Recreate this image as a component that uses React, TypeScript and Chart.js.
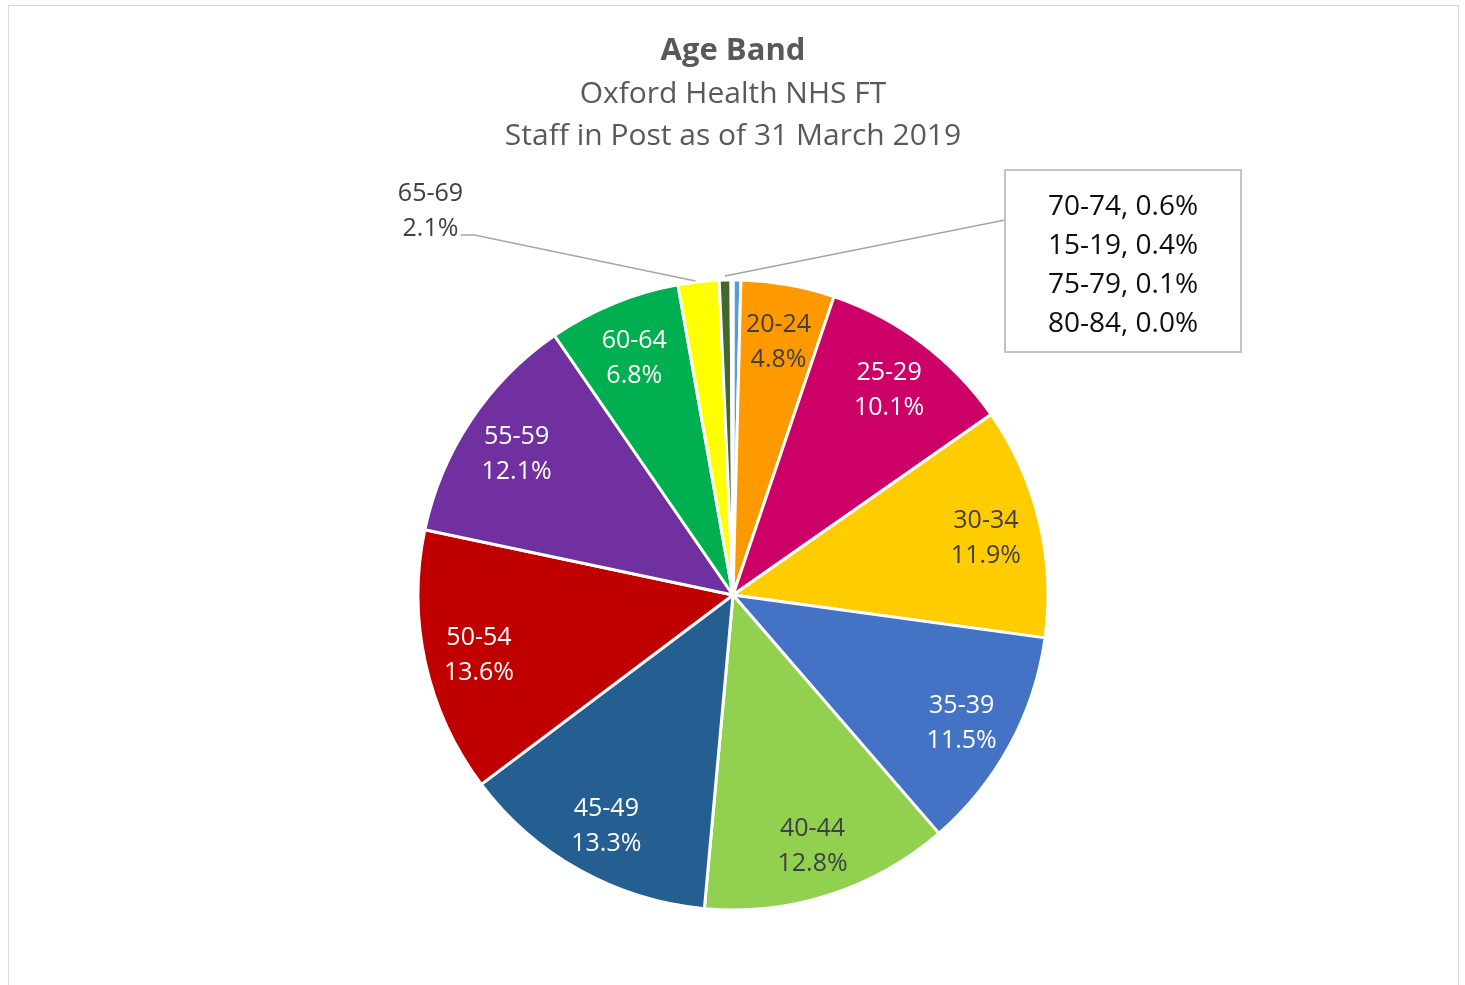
import React, { useEffect, useRef } from "react";
import { Chart, registerables } from "chart.js";

Chart.register(...registerables);

// ---- Data ----
const ageBands = [
  "15-19", "20-24", "25-29", "30-34", "35-39", "40-44", "45-49",
  "50-54", "55-59", "60-64", "65-69", "70-74", "75-79", "80-84",
];
const sharePct = [0.4, 4.8, 10.1, 11.9, 11.5, 12.8, 13.3, 13.6, 12.1, 6.8, 2.1, 0.6, 0.1, 0.0];
const sliceColors = [
  "#5b9bd5", "#ff9900", "#cc0066", "#ffcc00", "#4472c4", "#92d050", "#255e91",
  "#c00000", "#7030a0", "#00b050", "#ffff00", "#43682b", "#9dc3e6", "#bdd7ee",
];
const darkLabelBands = ["20-24", "30-34", "40-44"];
const outsideLabelBands = ["65-69"];
const calloutBands = ["70-74", "15-19", "75-79", "80-84"];
const titleText = "Age Band";
const subtitleLines = ["Oxford Health NHS FT", "Staff in Post as of 31 March 2019"];

const FONT = '"Open Sans", "Noto Sans", sans-serif';
const fmt = (v: number) => v.toFixed(1) + "%";

const sliceLabelPlugin = {
  id: "sliceLabels",
  afterDatasetsDraw(chart: any) {
    const ctx = chart.ctx as CanvasRenderingContext2D;
    const meta = chart.getDatasetMeta(0);
    const labels = chart.data.labels as string[];
    const values = chart.data.datasets[0].data as number[];
    ctx.save();
    ctx.textAlign = "center";
    ctx.textBaseline = "middle";
    ctx.font = `25px ${FONT}`;

    let cx0 = 0, cy0 = 0;
    meta.data.forEach((arc: any, i: number) => {
      const p = arc.getProps(["x", "y", "startAngle", "endAngle", "outerRadius"], true);
      cx0 = p.x; cy0 = p.y;
      const band = labels[i];
      const mid = (p.startAngle + p.endAngle) / 2;
      if (outsideLabelBands.includes(band)) {
        const ax = p.x + Math.cos(mid) * p.outerRadius;
        const ay = p.y + Math.sin(mid) * p.outerRadius;
        ctx.strokeStyle = "#a6a6a6";
        ctx.lineWidth = 1.5;
        ctx.beginPath();
        ctx.moveTo(ax - 3, ay - 1);
        ctx.lineTo(ax - 224, ay - 47);
        ctx.lineTo(ax - 238, ay - 47);
        ctx.stroke();
        ctx.fillStyle = "#404040";
        ctx.fillText(band, ax - 268, ay - 88);
        ctx.fillText(fmt(values[i]), ax - 268, ay - 53);
        return;
      }
      if (calloutBands.includes(band)) return;
      const r = p.outerRadius * 0.826;
      const lx = p.x + Math.cos(mid) * r;
      const ly = p.y + Math.sin(mid) * r + 4;
      ctx.fillStyle = darkLabelBands.includes(band) ? "#404040" : "#ffffff";
      ctx.fillText(band, lx, ly - 17.5);
      ctx.fillText(fmt(values[i]), lx, ly + 17.5);
    });

    // callout box for the tiny slices
    const boxL = cx0 + 272, boxT = cy0 - 425, boxW = 236, boxH = 182;
    const firstIdx = labels.indexOf(calloutBands[0]);
    const fa = meta.data[firstIdx].getProps(["x", "y", "startAngle", "endAngle", "outerRadius"], true);
    const fmid = (fa.startAngle + fa.endAngle) / 2;
    const fx = fa.x + Math.cos(fmid) * (fa.outerRadius + 4);
    const fy = fa.y + Math.sin(fmid) * (fa.outerRadius + 4);
    ctx.strokeStyle = "#a6a6a6";
    ctx.lineWidth = 1.5;
    ctx.beginPath();
    ctx.moveTo(boxL, boxT + 50);
    ctx.lineTo(fx, fy);
    ctx.stroke();
    ctx.fillStyle = "#ffffff";
    ctx.fillRect(boxL, boxT, boxW, boxH);
    ctx.strokeStyle = "#c4c4c4";
    ctx.lineWidth = 2;
    ctx.strokeRect(boxL, boxT, boxW, boxH);
    ctx.font = `28px ${FONT}`;
    ctx.fillStyle = "#0d0d0d";
    calloutBands.forEach((band, k) => {
      const idx = labels.indexOf(band);
      ctx.fillText(`${band}, ${fmt(values[idx])}`, boxL + boxW / 2, boxT + 37 + k * 39);
    });
    ctx.restore();
  },
};

export default function App() {
  const canvasRef = useRef<HTMLCanvasElement | null>(null);

  useEffect(() => {
    if (!canvasRef.current) return;
    const chart = new Chart(canvasRef.current, {
      type: "pie",
      data: {
        labels: ageBands,
        datasets: [
          {
            data: sharePct,
            backgroundColor: sliceColors,
            borderColor: "#ffffff",
            borderWidth: 3,
          },
        ],
      },
      options: {
        responsive: false,
        animation: false,
        radius: 315,
        layout: { padding: { left: 1, right: 0, top: 0, bottom: 60 } },
        plugins: {
          legend: { display: false },
          tooltip: { enabled: false },
          title: {
            display: true,
            text: titleText,
            color: "#595959",
            font: { family: FONT, size: 31, weight: "bold", lineHeight: 42 / 31 },
            padding: { top: 30, bottom: 0 },
          },
          subtitle: {
            display: true,
            text: subtitleLines,
            color: "#595959",
            font: { family: FONT, size: 30, weight: "normal", lineHeight: 1.4 },
            padding: { top: 1, bottom: 108 },
          },
        },
      } as any,
      plugins: [sliceLabelPlugin],
    });
    return () => chart.destroy();
  }, []);

  return (
    <div style={{ position: "fixed", left: 0, top: 0, width: 1465, height: 985, overflow: "hidden", background: "#fff" }}>
      <div
        style={{
          position: "absolute",
          left: 8,
          top: 5,
          width: 1449,
          height: 1100,
          border: "1px solid #d9d9d9",
        }}
      />
      <canvas
        ref={canvasRef}
        width={1465}
        height={985}
        style={{ position: "absolute", left: 0, top: 0, width: 1465, height: 985 }}
      />
    </div>
  );
}
